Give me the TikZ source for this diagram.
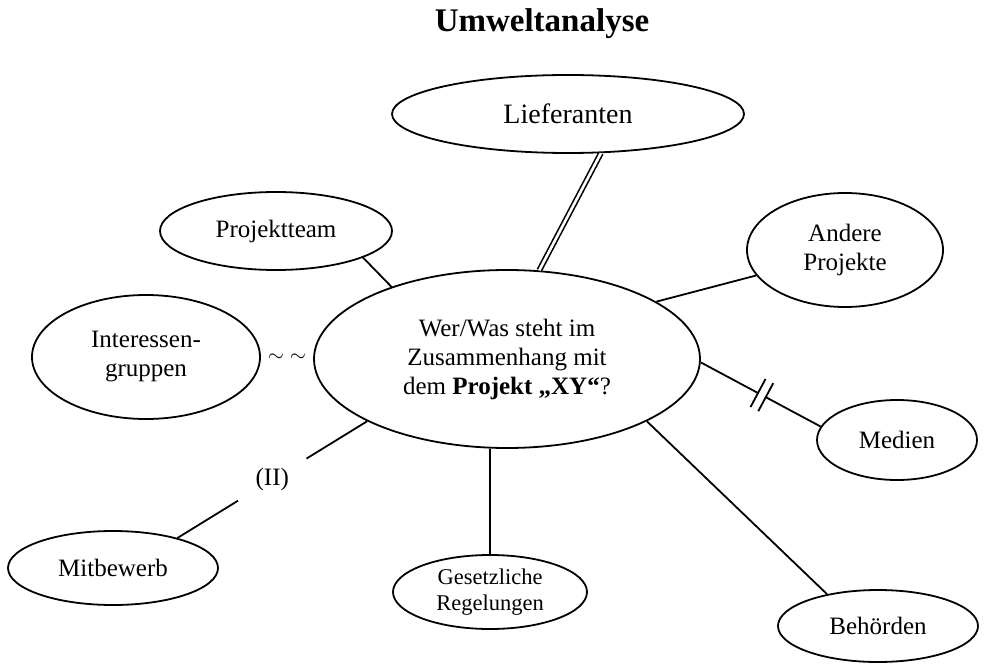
\documentclass[tikz,border=0pt]{standalone}
\usepackage{fontspec}
\setmainfont{Liberation Serif}
\usetikzlibrary{shapes.geometric,calc}
\begin{document}
\begin{tikzpicture}[x=1pt,y=-1pt,
  bubble/.style={draw, ellipse, line width=1.8pt, inner sep=0pt, align=center,
    font=\fontsize{25}{29}\selectfont},
  link/.style={line width=1.8pt},
  gaplabel/.style={circle, inner sep=0pt, minimum size=80pt,
    font=\fontsize{25}{29}\selectfont},
]
\useasboundingbox (0,0) rectangle (984,668);

% title
\node[font=\fontsize{33}{40}\selectfont\bfseries, anchor=base] (title) at (542,32) {Umweltanalyse};

% central question
\node[bubble, minimum width=386pt, minimum height=178pt] (cen) at (507,359)
  {Wer/Was steht im\\Zusammenhang mit\\dem \textbf{Projekt „XY“}?};

% surrounding groups
\node[bubble, minimum width=352pt, minimum height=78pt, font=\fontsize{28}{32}\selectfont] (lief) at (568,114) {Lieferanten};
\node[bubble, minimum width=232pt, minimum height=78pt] (proj) at (276,231) {Projektteam};
\node[bubble, minimum width=196pt, minimum height=114pt] (andere) at (845,250) {Andere\\Projekte};
\node[bubble, minimum width=228pt, minimum height=124pt] (inter) at (146,357) {Interessen-\\gruppen};
\node[bubble, minimum width=160pt, minimum height=80pt] (medien) at (897,440) {Medien};
\node[bubble, minimum width=210pt, minimum height=74pt] (mit) at (113,568) {Mitbewerb};
\node[bubble, minimum width=194pt, minimum height=74pt, font=\fontsize{22.5}{26}\selectfont] (gesetz) at (490,592) {Gesetzliche\\Regelungen};
\node[bubble, minimum width=200pt, minimum height=72pt] (beh) at (878,626) {Behörden};

% connectors
\draw[double, double distance=2.6pt, line width=1.6pt] (cen.70.8) -- (lief.-50);
\draw[link] (proj.-17.2) -- (cen.148.7);
\draw[link] (cen.21.1) -- (andere.196.7);
\draw[link] (cen.-1.8) -- node[sloped, pos=0.51, fill=white, minimum width=7pt,
  minimum height=30pt, inner sep=0pt] (brk) {} (medien.170);
\draw[link] (brk.north west) -- (brk.south west) (brk.north east) -- (brk.south east);
\draw[link] (gesetz.north) -- (gesetz.north |- cen.south);
\draw[link] (cen.-24.2) -- (beh.148.7);
\path (cen.204.3) -- node[gaplabel] (ii) {(II)} (mit.25.5);
\draw[link] (cen.204.3) -- (ii) -- (mit.25.5);
\path (inter.east) -- node[font=\fontsize{20}{24}\selectfont] (tilde) {$\sim\;\sim$} (cen.west);
\end{tikzpicture}
\end{document}
